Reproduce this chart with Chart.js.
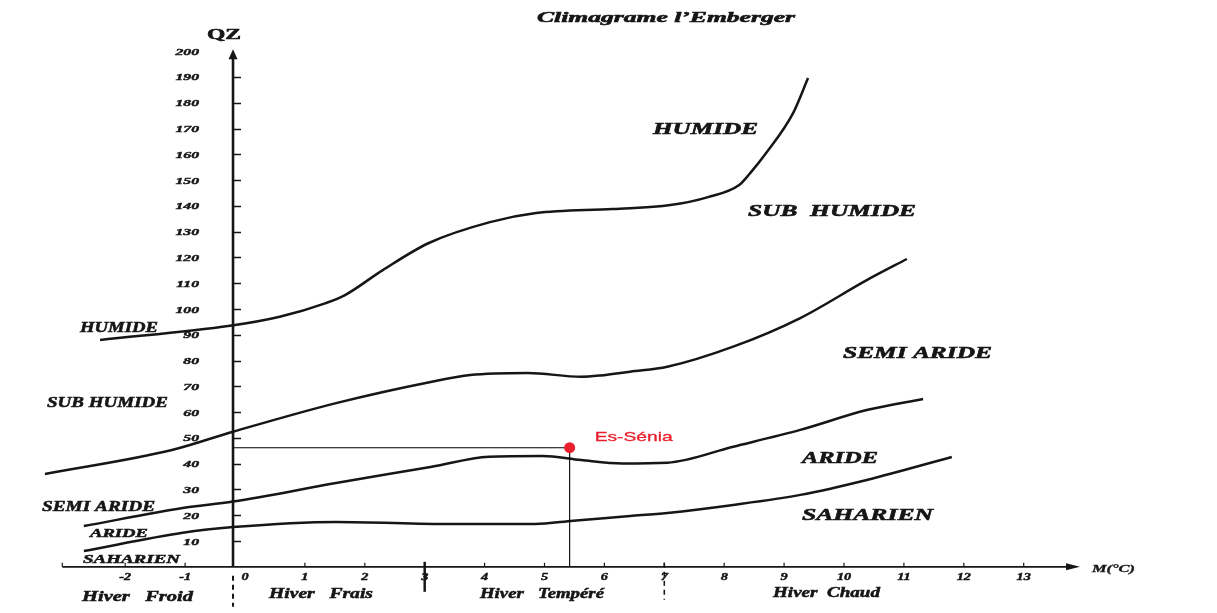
<!DOCTYPE html>
<html><head><meta charset="utf-8">
<script src="https://cdn.jsdelivr.net/npm/chart.js@4.4.1/dist/chart.umd.min.js"></script>
<style>html,body{margin:0;padding:0;background:#fff;} #wrap{width:1217px;height:613px;position:relative;}</style>
</head><body><div id="wrap"><canvas id="c"></canvas></div>
<script>
const humideM      = [-2.42, -0.25, 0.58, 1.35, 1.67, 2.30, 3.07, 4.09, 4.86, 6.14, 7.10, 7.73, 8.25, 8.43, 8.70, 9.15, 9.40];
const humideQ      = [88.0, 93.5, 97.0, 102.3, 105.4, 115.1, 125.6, 133.7, 137.2, 138.8, 140.3, 143.4, 148.1, 152.6, 160.5, 176.0, 189.6];
const subHumideM   = [-3.34, -1.22, -0.2, 1.52, 3.12, 3.76, 4.72, 5.61, 5.93, 6.43, 7.05, 8.15, 9.27, 10.38, 11.05];
const subHumideQ   = [36.0, 45.3, 52.4, 63.5, 71.8, 74.4, 75.2, 73.7, 74.2, 75.7, 77.6, 85.4, 96.5, 111.2, 119.4];
const semiArideM   = [-2.69, -1.04, -0.2, 1.52, 3.12, 4.07, 4.97, 5.61, 6.30, 7.05, 8.15, 9.27, 10.38, 11.32];
const semiArideQ   = [15.8, 22.8, 25.3, 32.5, 38.8, 42.7, 43.0, 41.4, 40.1, 40.4, 46.6, 53.1, 60.8, 65.1];
const arideM       = [-2.69, -1.04, -0.2, 1.52, 3.44, 4.84, 5.48, 6.43, 7.05, 8.15, 9.27, 10.38, 11.80];
const arideQ       = [6.1, 13.2, 15.4, 17.4, 16.6, 16.6, 17.9, 19.7, 20.9, 24.0, 27.9, 33.7, 42.6];
const stationName  = 'Es-Sénia';
const stationM     = 5.42;
const stationQ     = 46.2;
const yTickLabels  = ['10','20','30','40','50','60','70','80','90','100','110','120','130','140','150','160','170','180','190','200'];
const xTickLabels  = ['-2','-1','0','1','2','3','4','5','6','7','8','9','10','11','12','13'];
const winterLimits = [0, 3, 7];
const yAxisAt      = -0.2;

const SERIF = "'Liberation Serif','DejaVu Serif',serif";
const INK = '#161616';
const pts = (xs, ys) => xs.map((v, i) => ({x: v, y: ys[i]}));

function txt(ctx, s, x, y, font, o) {
  ctx.save();
  ctx.font = font; ctx.textBaseline = 'alphabetic'; ctx.textAlign = 'left';
  ctx.fillStyle = o.color || INK;
  ctx.strokeStyle = o.color || INK;
  const w = ctx.measureText(s).width;
  const sx = o.width ? o.width / w : (o.sx || 1);
  const tw = w * sx;
  let left = x;
  if (o.align === 'center') left = x - tw / 2; else if (o.align === 'right') left = x - tw;
  ctx.translate(left, y); ctx.scale(sx, 1); ctx.fillText(s, 0, 0);
  if (o.heavy) { ctx.lineWidth = o.heavy; ctx.strokeText(s, 0, 0); }
  ctx.restore();
}

const emberger = {
  id: 'emberger',
  beforeDatasetsDraw(chart) {
    const {ctx, scales: {x, y}} = chart;
    const ax = x.getPixelForValue(yAxisAt);
    const y0 = y.getPixelForValue(0);
    const yTop = y.getPixelForValue(200);
    ctx.save();
    ctx.strokeStyle = INK; ctx.fillStyle = INK;
    // y axis + arrow
    ctx.lineWidth = 2.6;
    ctx.beginPath(); ctx.moveTo(ax, y0); ctx.lineTo(ax, yTop + 6); ctx.stroke();
    ctx.beginPath(); ctx.moveTo(ax, yTop - 2); ctx.lineTo(ax - 4.5, yTop + 8); ctx.lineTo(ax + 4.5, yTop + 8); ctx.closePath(); ctx.fill();
    ctx.lineWidth = 1.5;
    yTickLabels.forEach(l => {
      const v = Number(l); if (v >= 200) return;
      const py = Math.round(y.getPixelForValue(v)) + 0.5;
      ctx.beginPath(); ctx.moveTo(ax, py); ctx.lineTo(ax + 8, py); ctx.stroke();
    });
    // x axis + arrow
    const xl = x.getPixelForValue(-3.05), xr = x.getPixelForValue(13.94);
    ctx.lineWidth = 1.8;
    ctx.beginPath(); ctx.moveTo(xl, y0); ctx.lineTo(xr - 10, y0); ctx.stroke();
    ctx.beginPath(); ctx.moveTo(xr, y0); ctx.lineTo(xr - 14, y0 - 3.5); ctx.lineTo(xr - 14, y0 + 3.5); ctx.closePath(); ctx.fill();
    ctx.lineWidth = 1.2;
    ctx.beginPath(); ctx.moveTo(xl, y0); ctx.lineTo(xl, y0 - 4); ctx.stroke();
    xTickLabels.forEach(l => {
      const v = Number(l); if (v === 0) return;
      const px = x.getPixelForValue(v);
      ctx.beginPath(); ctx.moveTo(px, y0); ctx.lineTo(px, y0 - 4); ctx.stroke();
    });
    // winter separators
    winterLimits.forEach((v, i) => {
      const px = x.getPixelForValue(v === 0 ? yAxisAt : v);
      ctx.beginPath();
      if (i === 0) { ctx.setLineDash([5, 4]); ctx.lineWidth = 2; ctx.moveTo(px, y0 + 9); ctx.lineTo(px, y0 + 40); }
      else if (i === 1) { ctx.setLineDash([]); ctx.lineWidth = 2.5; ctx.moveTo(px, y0 - 5); ctx.lineTo(px, y0 + 25); }
      else { ctx.setLineDash([5, 4]); ctx.lineWidth = 1.6; ctx.moveTo(px, y0 - 4); ctx.lineTo(px, y0 + 33); }
      ctx.stroke();
    });
    ctx.setLineDash([]);
    ctx.restore();
  },
  afterDraw(chart) {
    const {ctx, scales: {x, y}} = chart;
    const ax = x.getPixelForValue(yAxisAt);
    const y0 = y.getPixelForValue(0);
    // title & axis names
    txt(ctx, 'Climagrame l’Emberger', 537, 22, 'bold italic 15px ' + SERIF, {width: 258, heavy: 0.6});
    txt(ctx, 'QZ', 207, 39, 'bold 15px ' + SERIF, {width: 34, heavy: 0.6});
    txt(ctx, 'M(°C)', 1092, 572, 'bold italic 10px ' + SERIF, {width: 43, heavy: 0.3});
    // tick labels
    yTickLabels.forEach(l => {
      const py = y.getPixelForValue(Number(l));
      txt(ctx, l, ax - 34, py + 3.5, 'bold italic 9px ' + SERIF, {sx: 1.75, align: 'right', heavy: 0.4});
    });
    xTickLabels.forEach(l => {
      const px = x.getPixelForValue(Number(l));
      txt(ctx, l, px, y0 + 13, 'bold italic 9.5px ' + SERIF, {sx: 1.5, align: 'center', heavy: 0.4});
    });
    // zone names, left side
    const L = 'bold italic 14px ' + SERIF, L2 = 'bold italic 13px ' + SERIF, R = 'bold italic 17px ' + SERIF;
    txt(ctx, 'HUMIDE', 80, 332, L, {width: 78, heavy: 0.5});
    txt(ctx, 'SUB HUMIDE', 47, 407, L, {width: 121, heavy: 0.5});
    txt(ctx, 'SEMI ARIDE', 42, 511, L, {width: 113, heavy: 0.5});
    txt(ctx, 'ARIDE', 90, 537, L2, {width: 58, heavy: 0.5});
    txt(ctx, 'SAHARIEN', 83, 563, L2, {width: 97, heavy: 0.5});
    // zone names, right side
    txt(ctx, 'HUMIDE', 653, 134, R, {width: 105, heavy: 0.6});
    txt(ctx, 'SUB  HUMIDE', 748, 216, R, {width: 168, heavy: 0.6});
    txt(ctx, 'SEMI ARIDE', 843, 358, R, {width: 149, heavy: 0.6});
    txt(ctx, 'ARIDE', 802, 463, R, {width: 76, heavy: 0.6});
    txt(ctx, 'SAHARIEN', 802, 520, R, {width: 131, heavy: 0.6});
    // winter classes
    const B = 'bold italic 14px ' + SERIF;
    txt(ctx, 'Hiver   Froid', 82, 601, B, {width: 111, heavy: 0.5});
    txt(ctx, 'Hiver   Frais', 269, 598, B, {width: 104, heavy: 0.5});
    txt(ctx, 'Hiver   Tempéré', 480, 598, B, {width: 124, heavy: 0.5});
    txt(ctx, 'Hiver  Chaud', 773, 597, B, {width: 107, heavy: 0.5});
    // station label
    txt(ctx, stationName, x.getPixelForValue(stationM) + 25, y.getPixelForValue(stationQ) - 7,
        "13px 'Liberation Sans',Arial,sans-serif", {width: 78, color: '#ea1f2b', heavy: 0.3});
  }
};

const curve = (data) => ({
  data, showLine: true, borderColor: INK, borderWidth: 2.5, pointRadius: 0,
  cubicInterpolationMode: 'monotone', fill: false
});

new Chart(document.getElementById('c'), {
  type: 'scatter',
  data: {
    datasets: [
      { label: stationName, data: [{x: stationM, y: stationQ}], pointRadius: 5.5, pointHoverRadius: 5.5,
        backgroundColor: '#ea1f2b', borderColor: '#ea1f2b', borderWidth: 0 },
      { label: 'repère', data: [{x: yAxisAt, y: stationQ}, {x: stationM, y: stationQ}, {x: stationM, y: 0}],
        showLine: true, borderColor: '#000', borderWidth: 1.1, pointRadius: 0, tension: 0 },
      Object.assign(curve(pts(humideM, humideQ)), {label: 'Humide / Sub-humide'}),
      Object.assign(curve(pts(subHumideM, subHumideQ)), {label: 'Sub-humide / Semi-aride'}),
      Object.assign(curve(pts(semiArideM, semiArideQ)), {label: 'Semi-aride / Aride'}),
      Object.assign(curve(pts(arideM, arideQ)), {label: 'Aride / Saharien'})
    ]
  },
  options: {
    responsive: true, maintainAspectRatio: false, animation: false, devicePixelRatio: 1,
    layout: {padding: {left: 41.34, right: 133.4, top: 51.2, bottom: 46.2}},
    plugins: {legend: {display: false}, tooltip: {enabled: false}},
    scales: {
      x: {type: 'linear', min: -3.4, max: 14, display: false},
      y: {type: 'linear', min: 0, max: 200, display: false}
    }
  },
  plugins: [emberger]
});
</script>
</body></html>
